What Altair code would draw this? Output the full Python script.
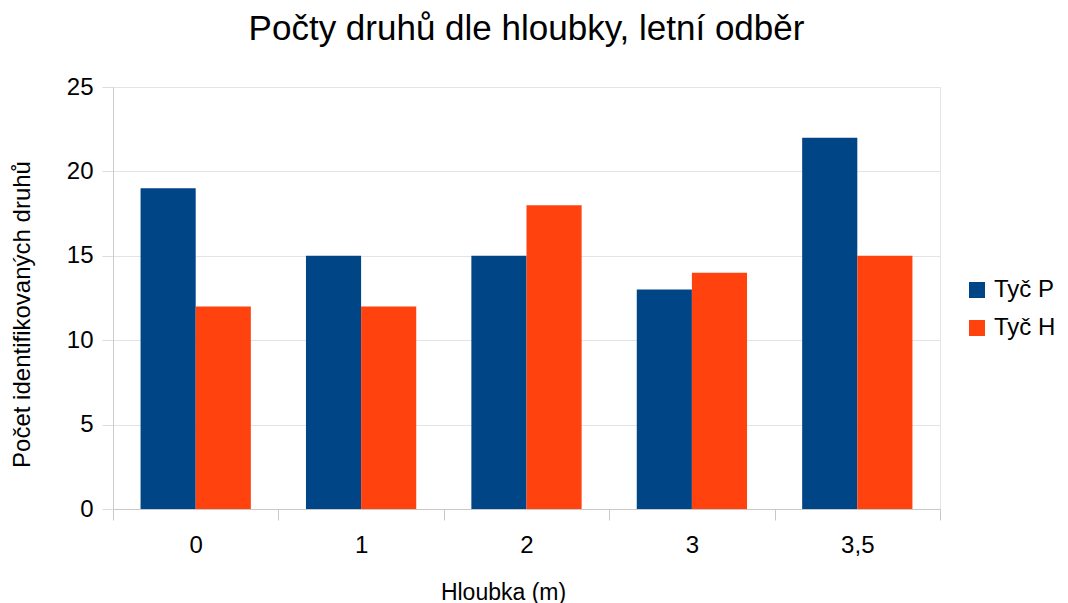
import altair as alt
import pandas as pd

depths = ["0", "1", "2", "3", "3,5"]
series = ["Tyč P", "Tyč H"]
tyc_p = [19, 15, 15, 13, 22]
tyc_h = [12, 12, 18, 14, 15]
colors = ["#004586", "#ff420e"]
y_ticks = [0, 5, 10, 15, 20, 25]

rows = []
for d, p, h in zip(depths, tyc_p, tyc_h):
    rows.append({"depth": d, "series": series[0], "value": p})
    rows.append({"depth": d, "series": series[1], "value": h})
df = pd.DataFrame(rows)

FONT = "Liberation Sans"

chart = alt.Chart(df).mark_bar().encode(
    x=alt.X(
        "depth:N",
        sort=depths,
        scale=alt.Scale(paddingInner=0, paddingOuter=0),
        axis=alt.Axis(
            title="Hloubka (m)",
            labelAngle=0,
            tickBand="extent",
            ticks=True,
            tickSize=11,
            tickColor="#c8c8c8",
            domainColor="#c8c8c8",
            grid=False,
            labelFontSize=24,
            labelColor="black",
            labelPadding=13,
            titleFontSize=23,
            titleFontWeight="normal",
            titleColor="black",
            titlePadding=24,
            titleX=390,
        ),
    ),
    xOffset=alt.XOffset(
        "series:N", sort=series, scale=alt.Scale(paddingInner=0, paddingOuter=0.5)
    ),
    y=alt.Y(
        "value:Q",
        scale=alt.Scale(domain=[0, 25]),
        axis=alt.Axis(
            values=y_ticks,
            title="Počet identifikovaných druhů",
            tickSize=11,
            tickColor="#dddddd",
            domainColor="#cccccc",
            gridColor="#e4e4e4",
            labelFontSize=24,
            labelColor="black",
            labelPadding=9,
            titleFontSize=24,
            titleFontWeight="normal",
            titleColor="black",
            titlePadding=32,
            titleY=227,
        ),
    ),
    color=alt.Color(
        "series:N",
        sort=series,
        scale=alt.Scale(domain=series, range=colors),
        legend=alt.Legend(
            title=None,
            orient="none",
            legendX=852,
            legendY=191,
            padding=0,
            symbolType="square",
            symbolSize=256,
            symbolStrokeWidth=0,
            labelFontSize=24,
            labelColor="black",
            labelOffset=5,
            rowPadding=14,
        ),
    ),
).properties(
    width=827,
    height=422,
    title=alt.TitleParams(
        "Počty druhů dle hloubky, letní odběr",
        fontSize=35,
        fontWeight="normal",
        color="black",
        offset=28,
    ),
    padding={"left": 105, "top": 79, "right": 120, "bottom": 94},
    autosize="none",
).configure(font=FONT).configure_view(stroke="#e4e4e4")

chart.save("out.html", embed_options={"renderer": "svg", "actions": False})
